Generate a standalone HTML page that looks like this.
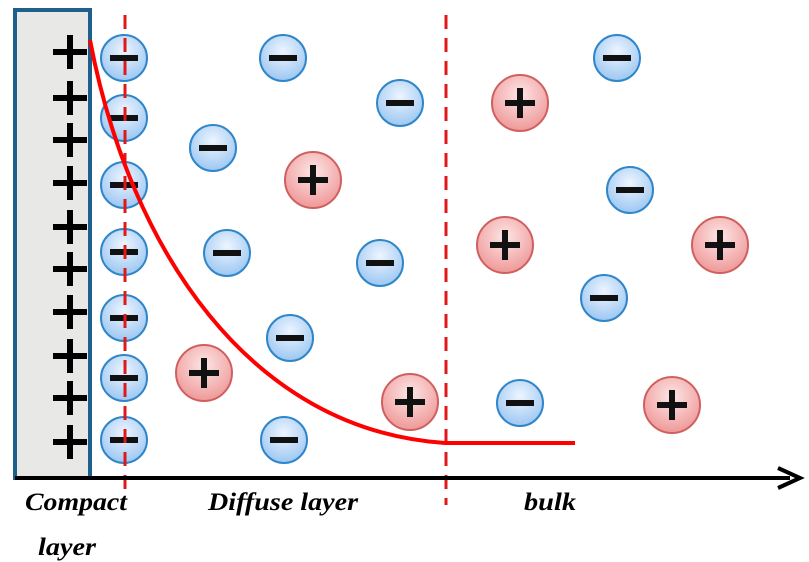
<!DOCTYPE html>
<html><head><style>html,body{margin:0;padding:0;background:#fff}svg{display:block}</style></head><body>
<svg width="809" height="562" viewBox="0 0 809 562" xmlns="http://www.w3.org/2000/svg">
<defs>
<radialGradient id="b" cx="50%" cy="35%" r="65%"><stop offset="0" stop-color="#eef5ff"/><stop offset="1" stop-color="#9cc7f2"/></radialGradient>
<radialGradient id="r" cx="50%" cy="35%" r="65%"><stop offset="0" stop-color="#fde6e6"/><stop offset="1" stop-color="#ef9898"/></radialGradient>
<g id="neg"><circle r="23" fill="url(#b)" stroke="#2f86c9" stroke-width="2"/><rect x="-14" y="-3" width="28" height="6" fill="#111"/></g>
<g id="pos"><circle r="28" fill="url(#r)" stroke="#d06060" stroke-width="2"/><rect x="-15" y="-3" width="30" height="6" fill="#111"/><rect x="-3" y="-15" width="6" height="30" fill="#111"/></g>
<g id="pl"><rect x="-17" y="-3" width="34" height="6" fill="#000"/><rect x="-3" y="-17" width="6" height="34" fill="#000"/></g>
</defs>
<rect x="15" y="10" width="75" height="468" fill="#e8e8e6" stroke="#1f5f8b" stroke-width="4"/>
<g>
<use href="#pl" x="70" y="52"/><use href="#pl" x="70" y="98"/><use href="#pl" x="70" y="140"/><use href="#pl" x="70" y="183"/><use href="#pl" x="70" y="227"/><use href="#pl" x="70" y="269"/><use href="#pl" x="70" y="312"/><use href="#pl" x="70" y="356"/><use href="#pl" x="70" y="398"/><use href="#pl" x="70" y="442"/>
</g>
<g>
<use href="#neg" x="124" y="58"/><use href="#neg" x="124" y="118"/><use href="#neg" x="124" y="185"/><use href="#neg" x="124" y="252"/><use href="#neg" x="124" y="318"/><use href="#neg" x="124" y="378"/><use href="#neg" x="124" y="440"/>
<use href="#neg" x="283" y="58"/><use href="#neg" x="400" y="103"/><use href="#neg" x="617" y="58"/><use href="#neg" x="213" y="148"/><use href="#neg" x="630" y="190"/><use href="#neg" x="227" y="253"/><use href="#neg" x="380" y="263"/><use href="#neg" x="604" y="298"/><use href="#neg" x="290" y="338"/><use href="#neg" x="520" y="403"/><use href="#neg" x="284" y="440"/>
<use href="#pos" x="520" y="103"/><use href="#pos" x="313" y="180"/><use href="#pos" x="505" y="245"/><use href="#pos" x="720" y="245"/><use href="#pos" x="204" y="373"/><use href="#pos" x="410" y="402"/><use href="#pos" x="672" y="405"/>
</g>
<line x1="125" y1="15" x2="125" y2="495" stroke="#e01818" stroke-width="3" stroke-dasharray="14,9"/>
<line x1="446" y1="15" x2="446" y2="505" stroke="#e01818" stroke-width="3" stroke-dasharray="14,9"/>
<path d="M90,40 C130,250 250,430 445,443 L575,443" fill="none" stroke="#f00" stroke-width="4"/>
<line x1="15" y1="478" x2="790" y2="478" stroke="#000" stroke-width="4"/>
<path d="M778,468 L800,478 L778,488" fill="none" stroke="#000" stroke-width="4"/>
<g font-family="Liberation Serif, serif" font-style="italic" font-weight="bold" font-size="25" fill="#000">
<text x="25" y="510" textLength="102" lengthAdjust="spacingAndGlyphs">Compact</text>
<text x="38" y="555" textLength="58" lengthAdjust="spacingAndGlyphs">layer</text>
<text x="208" y="510" textLength="150" lengthAdjust="spacingAndGlyphs">Diffuse layer</text>
<text x="524" y="510" textLength="52" lengthAdjust="spacingAndGlyphs">bulk</text>
</g>
</svg>
</body></html>
